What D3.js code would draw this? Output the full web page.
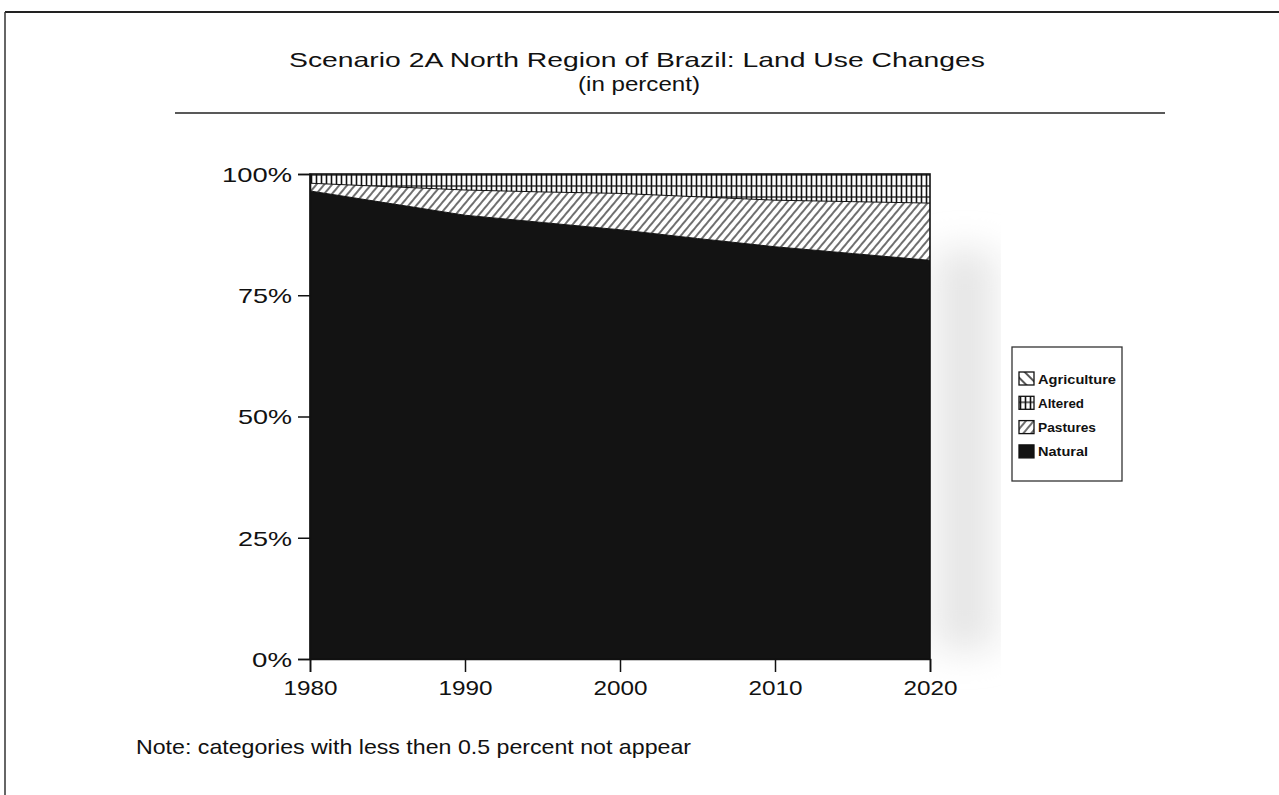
<!DOCTYPE html>
<html>
<head>
<meta charset="utf-8">
<script src="https://cdn.jsdelivr.net/npm/d3@7"></script>
<style>
  html, body { margin: 0; padding: 0; background: #fff; }
  svg { display: block; font-family: 'Liberation Sans', Arial, sans-serif; }
</style>
</head>
<body>
<svg id="chart" width="1279" height="795"></svg>
<script>
// Land use shares, percent of the North region
const years = [1980, 1985, 1990, 1995, 2000, 2005, 2010, 2015, 2020];
const natural = [96.5, 94.0, 91.5, 90.0, 88.5, 86.7, 85.0, 83.6, 82.2];
const pastures = [1.6, 3.4, 5.2, 6.3, 7.5, 8.6, 9.6, 10.7, 11.8];
const altered = [1.9, 2.6, 3.3, 3.7, 4.0, 4.7, 5.4, 5.7, 6.0];
const agriculture = [0, 0, 0, 0, 0, 0, 0, 0, 0];

const seriesKeys = ['Natural', 'Pastures', 'Altered', 'Agriculture'];
const legendKeys = ['Agriculture', 'Altered', 'Pastures', 'Natural'];
const xTicks = [1980, 1990, 2000, 2010, 2020];
const yTicks = [0, 25, 50, 75, 100];

const titleText = 'Scenario 2A North Region of Brazil: Land Use Changes';
const subtitleText = '(in percent)';
const noteText = 'Note: categories with less then 0.5 percent not appear';

const rows = years.map((yr, i) => ({
  year: yr,
  Natural: natural[i],
  Pastures: pastures[i],
  Altered: altered[i],
  Agriculture: agriculture[i]
}));

const svg = d3.select('#chart');
const plot = { left: 310, right: 930, top: 174, bottom: 659 };

// stretch text to a measured width (the scan is wider than the font)
function fit(sel, w) {
  sel.attr('textLength', w).attr('lengthAdjust', 'spacingAndGlyphs');
}

// ---- patterns
const defs = svg.append('defs');

const pAlt = defs.append('pattern')
  .attr('id', 'p-altered').attr('patternUnits', 'userSpaceOnUse')
  .attr('width', 5).attr('height', 11);
pAlt.append('rect').attr('width', 5).attr('height', 11).attr('fill', '#fff');
pAlt.append('line').attr('x1', 1.5).attr('x2', 1.5).attr('y1', 0).attr('y2', 11)
  .attr('stroke', '#111').attr('stroke-width', 1.6);
pAlt.append('line').attr('x1', 0).attr('x2', 5).attr('y1', 10).attr('y2', 10)
  .attr('stroke', '#111').attr('stroke-width', 1.2);

const pPast = defs.append('pattern')
  .attr('id', 'p-pastures').attr('patternUnits', 'userSpaceOnUse')
  .attr('width', 6).attr('height', 6)
  .attr('patternTransform', 'rotate(40)');
pPast.append('rect').attr('width', 6).attr('height', 6).attr('fill', '#fff');
pPast.append('line').attr('x1', 1).attr('x2', 1).attr('y1', 0).attr('y2', 6)
  .attr('stroke', '#222').attr('stroke-width', 1.3);

const pAgri = defs.append('pattern')
  .attr('id', 'p-agri').attr('patternUnits', 'userSpaceOnUse')
  .attr('width', 8).attr('height', 8)
  .attr('patternTransform', 'rotate(-45)');
pAgri.append('rect').attr('width', 8).attr('height', 8).attr('fill', '#fff');
pAgri.append('line').attr('x1', 1).attr('x2', 1).attr('y1', 0).attr('y2', 8)
  .attr('stroke', '#111').attr('stroke-width', 1.4);

defs.append('filter').attr('id', 'smudge')
  .append('feGaussianBlur').attr('stdDeviation', 18);

const fills = {
  Natural: '#131313',
  Pastures: 'url(#p-pastures)',
  Altered: 'url(#p-altered)',
  Agriculture: 'url(#p-agri)'
};

// ---- page frame
svg.append('line').attr('x1', 5).attr('x2', 1279).attr('y1', 12).attr('y2', 12)
  .attr('stroke', '#222').attr('stroke-width', 2);
svg.append('line').attr('x1', 5).attr('x2', 5).attr('y1', 12).attr('y2', 795)
  .attr('stroke', '#333').attr('stroke-width', 1.5);

// scan shadow right of the plot
svg.append('rect').attr('x', 935).attr('y', 250).attr('width', 60).attr('height', 400)
  .attr('fill', '#e6e6e6').attr('filter', 'url(#smudge)');

// ---- titles
const title = svg.append('text').attr('x', 637).attr('y', 67)
  .attr('text-anchor', 'middle').style('font-size', '21px').attr('fill', '#111')
  .text(titleText);
fit(title, 696);
const sub = svg.append('text').attr('x', 639).attr('y', 91)
  .attr('text-anchor', 'middle').style('font-size', '21px').attr('fill', '#111')
  .text(subtitleText);
fit(sub, 122);
svg.append('line').attr('x1', 175).attr('x2', 1165).attr('y1', 113).attr('y2', 113)
  .attr('stroke', '#222').attr('stroke-width', 1.6);

// ---- scales
const x = d3.scaleLinear().domain([1980, 2020]).range([plot.left, plot.right]);
const y = d3.scaleLinear().domain([0, 100]).range([plot.bottom, plot.top]);

const stack = d3.stack().keys(seriesKeys);
const layers = stack(rows);

const area = d3.area()
  .x(d => x(d.data.year))
  .y0(d => y(d[0]))
  .y1(d => y(d[1]));

svg.append('g').selectAll('path')
  .data(layers.filter(l => l.some(d => d[1] - d[0] >= 0.5)))
  .join('path')
  .attr('d', area)
  .attr('fill', d => fills[d.key])
  .attr('stroke', 'none');

// boundaries between layers
svg.append('g').selectAll('path')
  .data(layers.slice(0, 2))
  .join('path')
  .attr('d', d3.line().x(d => x(d.data.year)).y(d => y(d[1])))
  .attr('fill', 'none').attr('stroke', '#111').attr('stroke-width', 1);

// plot border
svg.append('rect')
  .attr('x', plot.left).attr('y', plot.top)
  .attr('width', plot.right - plot.left).attr('height', plot.bottom - plot.top)
  .attr('fill', 'none').attr('stroke', '#111').attr('stroke-width', 1.6);

// ---- axes
const yAxis = svg.append('g')
  .attr('transform', `translate(${plot.left},0)`)
  .call(d3.axisLeft(y).tickValues(yTicks).tickSize(12).tickPadding(6)
    .tickFormat(d => d + '%'));
yAxis.select('.domain').attr('stroke', '#111').attr('stroke-width', 1.6);
yAxis.selectAll('.tick line').attr('stroke', '#111').attr('stroke-width', 1.5);
yAxis.selectAll('.tick text')
  .style('font-size', '21px').style('font-family', "'Liberation Sans', Arial, sans-serif")
  .attr('fill', '#111').attr('dy', '0.35em')
  .each(function(d) { fit(d3.select(this), d === 100 ? 70 : (d === 0 ? 40 : 54)); });

const xAxis = svg.append('g')
  .attr('transform', `translate(0,${plot.bottom})`)
  .call(d3.axisBottom(x).tickValues(xTicks).tickSize(13).tickPadding(8)
    .tickFormat(d3.format('d')));
xAxis.select('.domain').attr('stroke', '#111').attr('stroke-width', 1.6);
xAxis.selectAll('.tick line').attr('stroke', '#111').attr('stroke-width', 1.5);
xAxis.selectAll('.tick text')
  .style('font-size', '21px').style('font-family', "'Liberation Sans', Arial, sans-serif")
  .attr('fill', '#111')
  .each(function() { fit(d3.select(this), 54); });

// ---- legend
const lg = svg.append('g').attr('transform', 'translate(1012,347)');
lg.append('rect').attr('width', 110).attr('height', 134)
  .attr('fill', '#fff').attr('stroke', '#333').attr('stroke-width', 1.3);
const item = lg.selectAll('g.item').data(legendKeys).join('g')
  .attr('class', 'item')
  .attr('transform', (d, i) => `translate(7,${32 + i * 24.3})`);
item.append('rect').attr('y', -7).attr('width', 15).attr('height', 13)
  .attr('fill', d => fills[d]).attr('stroke', '#111').attr('stroke-width', 1.3);
item.append('text').attr('x', 19).attr('dy', '0.35em')
  .style('font-size', '13px').style('font-weight', 'bold').attr('fill', '#111')
  .text(d => d)
  .each(function(d) {
    const w = { Agriculture: 78, Altered: 46, Pastures: 58, Natural: 50 }[d];
    fit(d3.select(this), w);
  });

// ---- note
const note = svg.append('text').attr('x', 136).attr('y', 754)
  .style('font-size', '21px').attr('fill', '#111')
  .text(noteText);
fit(note, 555);
</script>
</body>
</html>
